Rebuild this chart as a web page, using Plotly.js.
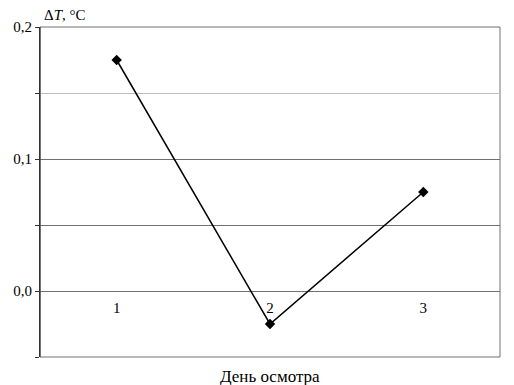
<!DOCTYPE html>
<html><head><meta charset="utf-8">
<script src="https://cdn.plot.ly/plotly-3.0.1.min.js"></script>
<style>html,body{margin:0;padding:0;background:#fff}#chart{width:514px;height:385px}</style>
</head><body><div id="chart"></div>
<script>
const days = [1, 2, 3];
const dayLabels = ["1", "2", "3"];
const deltaT = [0.175, -0.025, 0.075];
const yTickVals = [-0.05, 0, 0.05, 0.1, 0.2];
const yTickText = ["", "0,0", "", "0,1", "0,2"];
const yLightGrid = [0.15];

const font = "'Liberation Serif', 'Times New Roman', Times, serif";
const trace = {
  x: days, y: deltaT, type: "scatter", mode: "lines+markers",
  line: {color: "#000", width: 1.5},
  marker: {symbol: "diamond", size: 8, color: "#000"},
  hoverinfo: "skip"
};
const layout = {
  width: 514, height: 385,
  margin: {l: 40, r: 14, t: 27, b: 28},
  paper_bgcolor: "#fff", plot_bgcolor: "#fff",
  showlegend: false,
  font: {family: font, size: 15, color: "#000"},
  xaxis: {
    range: [0.5, 3.5], tickvals: days, ticktext: dayLabels,
    anchor: "free", position: 0.2, side: "bottom",
    showgrid: false, zeroline: false, showline: false, ticks: "",
    ticklabelstandoff: 6,
    tickfont: {family: font, size: 15, color: "#000"}
  },
  yaxis: {
    range: [-0.05, 0.2], tickmode: "array", tickvals: yTickVals, ticktext: yTickText,
    showgrid: true, gridcolor: "#707070", gridwidth: 1,
    zeroline: false,
    showline: true, linecolor: "#333", linewidth: 1,
    ticks: "outside", ticklen: 4, tickcolor: "#333",
    minor: {tickmode: "array", tickvals: yLightGrid, showgrid: true, gridcolor: "#bdbdbd",
            ticks: "outside", ticklen: 4, tickcolor: "#333"},
    tickfont: {family: font, size: 15, color: "#000"}
  },
  shapes: [
    {type: "rect", xref: "paper", yref: "paper", x0: 0, x1: 1, y0: 0, y1: 1,
     line: {color: "#707070", width: 1}, layer: "below"},
    {type: "line", xref: "paper", yref: "paper", x0: 0, x1: 0, y0: 0, y1: 1,
     line: {color: "#333", width: 1}}
  ],
  annotations: [
    {text: "Δ<i>T</i>, °C", xref: "paper", yref: "paper", x: 0.005, y: 1, yshift: 2,
     xanchor: "left", yanchor: "bottom", showarrow: false,
     font: {family: font, size: 15, color: "#000"}},
    {text: "День осмотра", xref: "paper", yref: "paper", x: 0.5, y: 0, yshift: -8,
     xanchor: "center", yanchor: "top", showarrow: false,
     font: {family: font, size: 17, color: "#000"}}
  ]
};
Plotly.newPlot("chart", [trace], layout, {displayModeBar: false, staticPlot: true});
</script></body></html>
